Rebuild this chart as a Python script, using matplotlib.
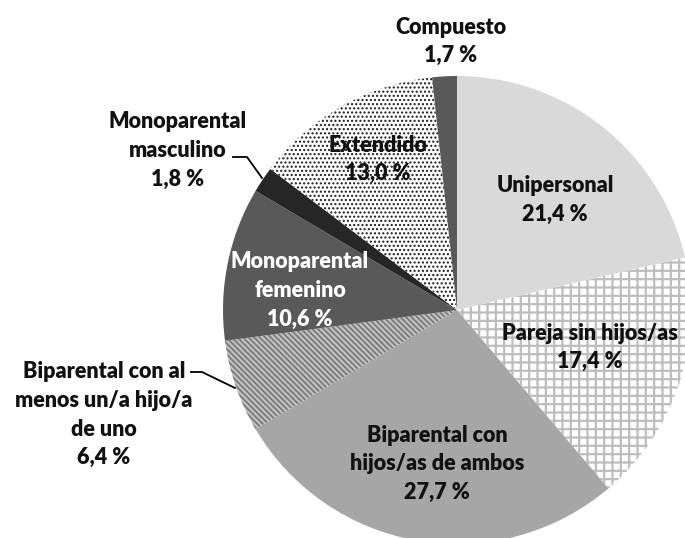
import matplotlib.pyplot as plt

# data
labels = ['Unipersonal', 'Pareja sin hijos/as', 'Biparental con\nhijos/as de ambos',
          'Biparental con al\nmenos un/a hijo/a\nde uno', 'Monoparental\nfemenino',
          'Monoparental\nmasculino', 'Extendido', 'Compuesto']
values = [21.4, 17.4, 27.7, 6.4, 10.6, 1.8, 13.0, 1.7]
pct_text = ['21,4 %', '17,4 %', '27,7 %', '6,4 %', '10,6 %', '1,8 %', '13,0 %', '1,7 %']

# styles
faces = ['#d9d9d9', 'white', '#a6a6a6', '#c0c0c0', '#595959', '#262626', 'white', '#595959']
hatches = [None, '++', None, '\\\\\\\\\\\\', None, None, '....', None]
hatch_cols = [None, '#bdbdbd', None, '#777777', None, None, '#1a1a1a', None]
hatch_lws = [0, 1.6, 0, 1.2, 0, 0, 1.0, 0]
txt_cols = ['#111111', '#111111', '#111111', '#111111', 'white', '#111111', '#111111', '#111111']

# pixel geometry of the reference
W, H = 685, 538
CX, CY, R = 457, 310, 234


def px(x, y):
    return (x - CX) / R, (CY - y) / R


# label centres (pixels) of the first line + line step
label_pos = [(555, 186), (590, 333), (437, 435), (104, 372), (300, 262),
             (178, 122), (378, 145), (451, 27)]
step = 28.5

plt.rcParams['font.family'] = ['Lato', 'DejaVu Sans']

fig = plt.figure(figsize=(W / 100, H / 100), dpi=100)
ax = fig.add_axes([0, 0, 1, 1])

wedges, _ = ax.pie(values, startangle=90, counterclock=False, radius=1,
                   center=(0, 0), frame=True)
for w, fc, h, hc, hl in zip(wedges, faces, hatches, hatch_cols, hatch_lws):
    w.set_facecolor(fc)
    w.set_linewidth(0)
    if h:
        w.set_hatch(h)
        w.set_edgecolor(hc)
        if hasattr(w, 'set_hatch_linewidth'):
            w.set_hatch_linewidth(hl)
ax.set_aspect('equal')
ax.axis('off')
ax.set_xlim(px(0, 0)[0], px(W, 0)[0])
ax.set_ylim(px(0, H)[1], px(0, 0)[1])

for lab, pct, (lx, ly), tc in zip(labels, pct_text, label_pos, txt_cols):
    lines = lab.split('\n') + [pct]
    for i, t in enumerate(lines):
        x, y = px(lx, ly + i * step)
        ax.text(x, y, t, ha='center', va='center', fontsize=15.5, fontweight='heavy',
                color=tc)

# leader lines
for pts in ([(191, 372), (202, 372), (235, 388)],
            [(233, 157), (247, 157), (262, 178)]):
    xy = [px(a, b) for a, b in pts]
    ax.plot([p[0] for p in xy], [p[1] for p in xy], color='black', lw=1.3)

fig.savefig('out.png', dpi=100)
